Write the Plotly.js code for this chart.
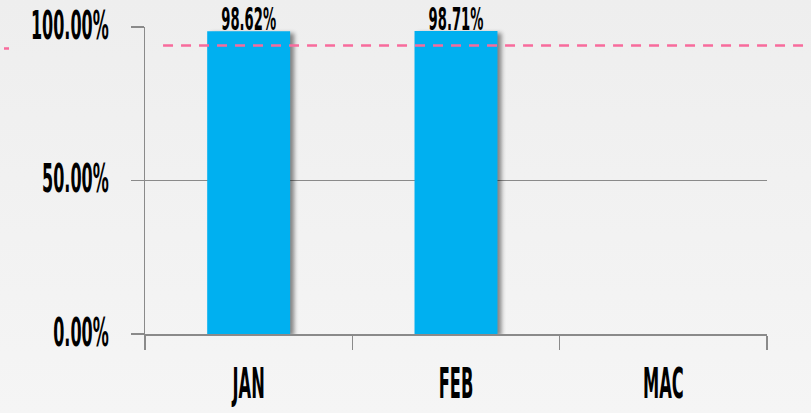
<!DOCTYPE html>
<html>
<head>
<meta charset="utf-8">
<script src="https://cdn.plot.ly/plotly-3.0.1.min.js"></script>
<style>
html,body{margin:0;padding:0;}
body{width:811px;height:413px;background:linear-gradient(#eeeeee,#f5f5f5);overflow:hidden;}
#chart{width:811px;height:413px;}
</style>
</head>
<body>
<div id="chart"></div>
<script>
// ---- data ----
var months = ["JAN", "FEB", "MAC"];
var achievement = [0.9862, 0.9871, null];
var target = [0.94];
var yTickVals = [0, 0.5, 1];

var FONT = "DejaVu Sans Condensed, Liberation Sans Narrow, Arial Narrow, sans-serif";
var GRID = "#8a8a8a";

var bars = {
  type: "bar",
  x: months,
  y: achievement,
  width: 0.4,
  marker: {color: "#00b0f0", line: {width: 0}},
  text: achievement.map(function(v){ return v == null ? "" : (v*100).toFixed(2) + "%"; }),
  textposition: "outside",
  constraintext: "none",
  cliponaxis: false,
  textfont: {family: FONT, size: 32, color: "#000", weight: 700},
  hoverinfo: "skip"
};

var layout = {
  width: 811, height: 413,
  margin: {l: 145, r: 44, t: 27, b: 79},
  paper_bgcolor: "rgba(0,0,0,0)",
  plot_bgcolor: "rgba(0,0,0,0)",
  showlegend: false,
  xaxis: {
    type: "category",
    range: [-0.5, 2.5],
    showgrid: false,
    zeroline: false,
    showline: true, linecolor: GRID, linewidth: 1.5,
    ticks: "outside", tickson: "boundaries", ticklen: 14, tickcolor: GRID, tickwidth: 1.5,
    ticklabelstandoff: 12,
    tickfont: {family: FONT, size: 42, color: "#000", weight: 700}
  },
  yaxis: {
    range: [0, 1],
    tickvals: yTickVals,
    tickformat: ".2%",
    showgrid: true, gridcolor: GRID, gridwidth: 1.5,
    zeroline: false,
    showline: true, linecolor: GRID, linewidth: 1.5,
    ticks: "outside", ticklen: 13, tickcolor: GRID, tickwidth: 1.5,
    ticklabelstandoff: 14,
    tickfont: {family: FONT, size: 39, color: "#000", weight: 700}
  },
  shapes: [
    {type: "line", xref: "paper", yref: "y", x0: 0.029, x1: 1.058, y0: target[0], y1: target[0],
     line: {color: "#f86b9c", width: 2.5, dash: "10px,8px"}},
    {type: "line", xref: "paper", yref: "y", x0: -0.2267, x1: -0.2186, y0: target[0] - 0.01, y1: target[0] - 0.01,
     line: {color: "#f86b9c", width: 2.5}}
  ]
};

function squeeze(sel, f, dy){
  document.querySelectorAll(sel).forEach(function(t){
    if (t.getAttribute("data-sq")) return;
    var w = t.getComputedTextLength();
    if (w > 0) {
      t.setAttribute("textLength", (w * f).toFixed(1));
      t.setAttribute("lengthAdjust", "spacingAndGlyphs");
      if (dy) t.setAttribute("y", (parseFloat(t.getAttribute("y") || 0) + dy).toFixed(1));
      t.setAttribute("data-sq", "1");
    }
  });
}

Plotly.newPlot("chart", [bars], layout, {displayModeBar: false, staticPlot: true}).then(function(){
  squeeze(".ytick text", 0.456, -2);
  squeeze(".xtick text", 0.43, 0);
  squeeze("text.bartext", 0.457, 10);
  document.querySelectorAll(".bars .point path").forEach(function(p){
    p.style.filter = "drop-shadow(4px 2px 2px rgba(0,0,0,0.45))";
  });
});
</script>
</body>
</html>
